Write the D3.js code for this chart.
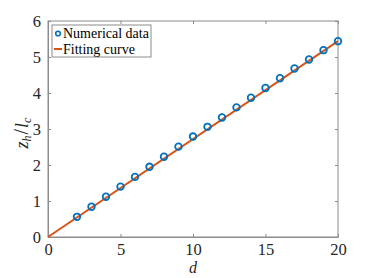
<!DOCTYPE html>
<html>
<head>
<meta charset="utf-8">
<script src="https://cdn.jsdelivr.net/npm/d3@7"></script>
<style>
  body { margin: 0; background: #fff; }
  svg { display: block; }
</style>
</head>
<body>
<div id="chart"></div>
<script>
const dValues = [2, 3, 4, 5, 6, 7, 8, 9, 10, 11, 12, 13, 14, 15, 16, 17, 18, 19, 20];
const zValues = [0.56, 0.84, 1.12, 1.40, 1.67, 1.95, 2.23, 2.51, 2.79, 3.06, 3.32, 3.60, 3.87, 4.14, 4.41, 4.68, 4.93, 5.19, 5.44];
const fitD = [0, 20];
const fitZ = [0, 5.44];
const xTicks = [0, 5, 10, 15, 20];
const yTicks = [0, 1, 2, 3, 4, 5, 6];
const legendLabels = ["Numerical data", "Fitting curve"];

const width = 374, height = 278;
const margin = ({top: 21, right: 36, bottom: 41, left: 48});

const x = d3.scaleLinear().domain([0, 20]).range([margin.left, width - margin.right]);
const y = d3.scaleLinear().domain([0, 6]).range([height - margin.bottom, margin.top]);

const axisColor = "#8c8c8c";
const textColor = "#262626";
const serif = "'Liberation Serif', 'DejaVu Serif', serif";

const svg = d3.select("#chart").append("svg")
	.attr("width", width)
	.attr("height", height)
	.style("font-family", serif);

// box
svg.append("rect")
	.attr("x", x(0)).attr("y", y(6))
	.attr("width", x(20) - x(0)).attr("height", y(0) - y(6))
	.attr("fill", "none").attr("stroke", axisColor).attr("stroke-width", 1);

const styleAxis = g => g
	.attr("font-family", null)
	.attr("font-size", null)
	.call(g => g.select(".domain").attr("stroke", axisColor))
	.call(g => g.selectAll(".tick line").attr("stroke", axisColor))
	.call(g => g.selectAll(".tick text")
		.attr("fill", textColor)
		.style("font-family", serif)
		.style("font-size", "16.5px"));

const xAxis = g => g
	.attr("transform", `translate(0,${y(0)})`)
	.call(d3.axisBottom(x).tickValues(xTicks).tickFormat(d3.format("d")).tickSizeInner(-3).tickSizeOuter(0).tickPadding(6))
	.call(styleAxis);

const yAxis = g => g
	.attr("transform", `translate(${x(0)},0)`)
	.call(d3.axisLeft(y).tickValues(yTicks).tickFormat(d3.format("d")).tickSizeInner(-3).tickSizeOuter(0).tickPadding(7))
	.call(styleAxis);

// top/right ticks
const xTop = g => g
	.attr("transform", `translate(0,${y(6)})`)
	.call(d3.axisTop(x).tickValues(xTicks).tickSizeInner(-3).tickSizeOuter(0).tickFormat(""))
	.call(g => g.select(".domain").remove())
	.call(g => g.selectAll(".tick line").attr("stroke", axisColor));
const yRight = g => g
	.attr("transform", `translate(${x(20)},0)`)
	.call(d3.axisRight(y).tickValues(yTicks).tickSizeInner(-3).tickSizeOuter(0).tickFormat(""))
	.call(g => g.select(".domain").remove())
	.call(g => g.selectAll(".tick line").attr("stroke", axisColor));

svg.append("g").call(xAxis);
svg.append("g").call(yAxis);
svg.append("g").call(xTop);
svg.append("g").call(yRight);

// axis labels
svg.append("text")
	.attr("x", (x(0) + x(20)) / 2)
	.attr("y", height - 5)
	.attr("text-anchor", "middle")
	.attr("font-size", 16)
	.attr("font-style", "italic")
	.attr("fill", textColor)
	.text("d");

const yl = svg.append("text")
	.attr("transform", `translate(28,${(y(0) + y(6)) / 2 + 4}) rotate(-90)`)
	.attr("text-anchor", "middle")
	.attr("font-size", 18)
	.attr("font-style", "italic")
	.attr("fill", textColor);
yl.append("tspan").text("z");
yl.append("tspan").attr("font-size", 12).attr("dy", 3).text("h");
yl.append("tspan").attr("dy", -3).attr("dx", 1).attr("font-style", "normal").attr("font-size", 20).text("/");
yl.append("tspan").attr("dx", 1).text("l");
yl.append("tspan").attr("font-size", 12).attr("dy", 3).text("c");

// fitting line
const line = d3.line().x(d => x(d[0])).y(d => y(d[1]));
svg.append("path")
	.datum(fitD.map((d, i) => [d, fitZ[i]]))
	.attr("fill", "none")
	.attr("stroke", "#D95319")
	.attr("stroke-width", 2)
	.attr("d", line);

// data points
svg.append("g").selectAll("circle")
	.data(dValues.map((d, i) => [d, zValues[i]]))
	.join("circle")
	.attr("cx", d => x(d[0]))
	.attr("cy", d => y(d[1]))
	.attr("r", 3.3)
	.attr("fill", "none")
	.attr("stroke", "#0072BD")
	.attr("stroke-width", 1.8);

// legend
const lg = svg.append("g").attr("transform", `translate(52,25)`);
lg.append("rect")
	.attr("width", 99).attr("height", 32)
	.attr("fill", "#fff").attr("stroke", axisColor).attr("stroke-width", 1);
lg.append("circle")
	.attr("cx", 6).attr("cy", 8.5).attr("r", 2.3)
	.attr("fill", "none").attr("stroke", "#0072BD").attr("stroke-width", 1.6);
lg.append("line")
	.attr("x1", 2).attr("x2", 10).attr("y1", 24).attr("y2", 24)
	.attr("stroke", "#D95319").attr("stroke-width", 2);
lg.selectAll("text.lab")
	.data(legendLabels)
	.join("text")
	.attr("class", "lab")
	.attr("x", 11)
	.attr("y", (d, i) => 13 + i * 15.5)
	.attr("font-size", 14)
	.attr("fill", "#000")
	.text(d => d);
</script>
</body>
</html>
